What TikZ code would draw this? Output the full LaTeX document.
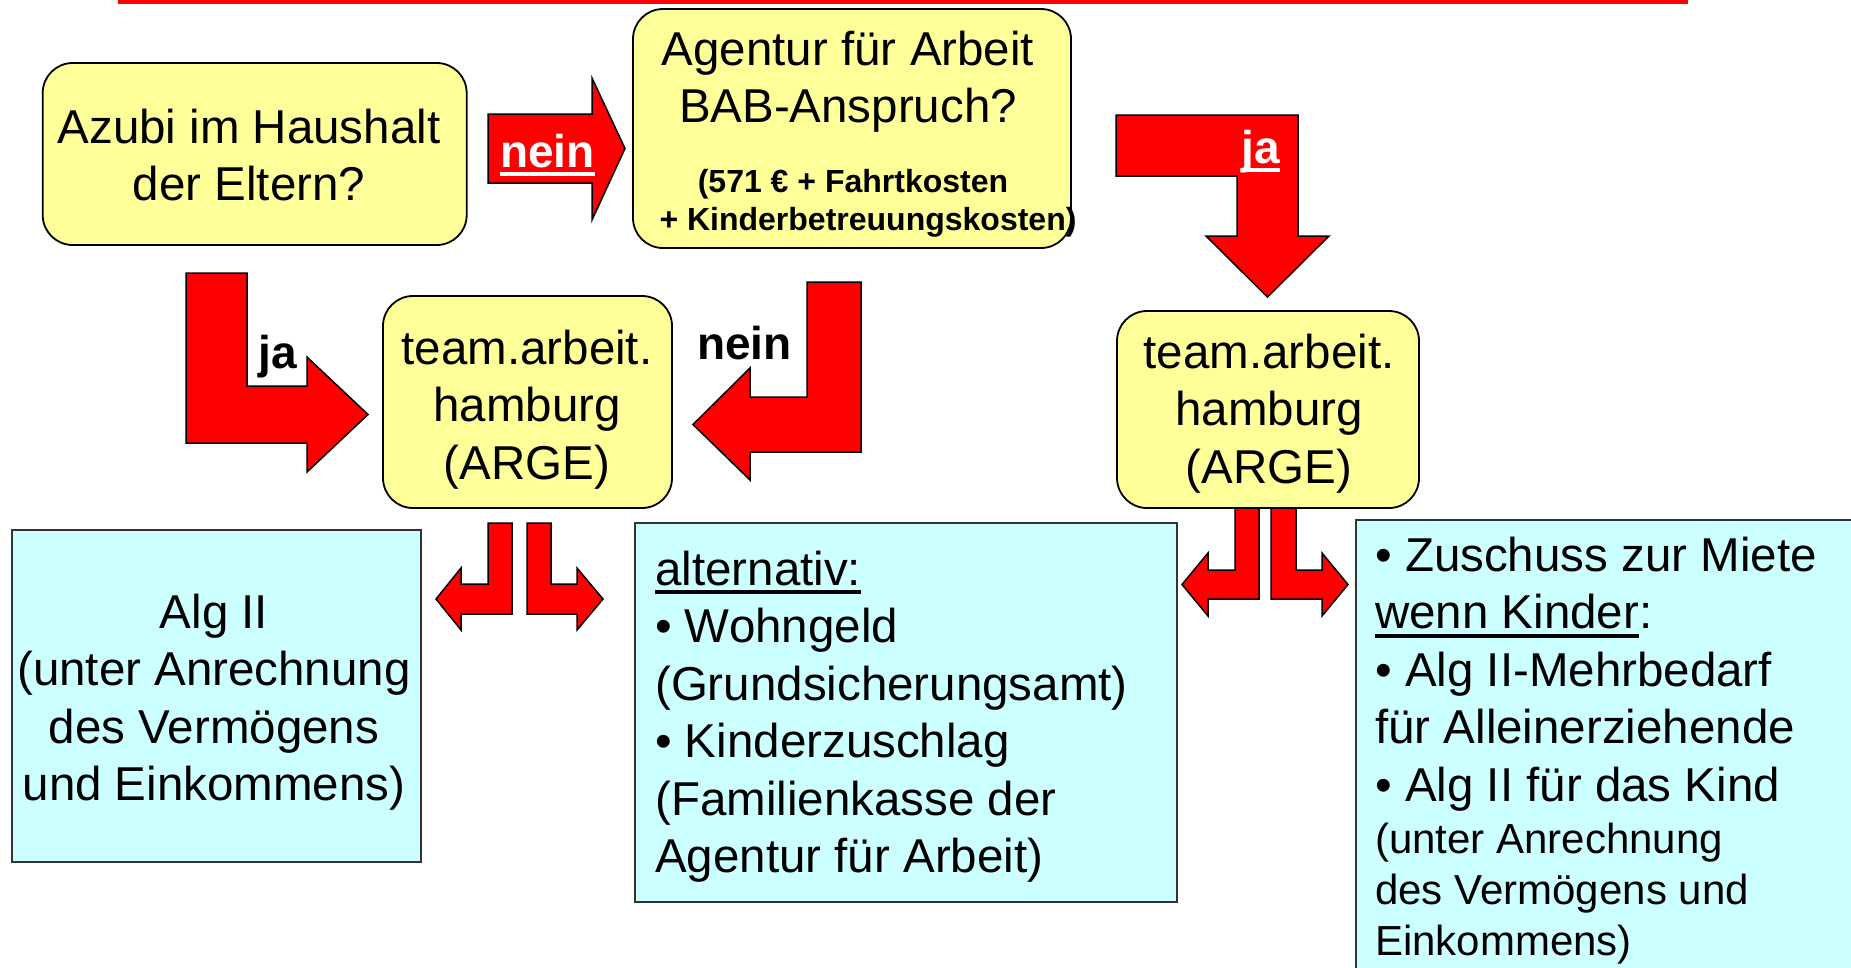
\documentclass[tikz,border=0pt]{standalone}
\usepackage{fontspec}
\setmainfont{Liberation Sans}
\usetikzlibrary{positioning}

\definecolor{boxyellow}{HTML}{FFFF99}
\definecolor{boxcyan}{HTML}{CCFFFF}
\definecolor{arrowred}{HTML}{FF0000}
\newcommand{\ulbar}[1]{\setbox0=\hbox{#1}\rlap{\rule[-9pt]{\wd0}{3.8pt}}\box0}

\begin{document}
\begin{tikzpicture}[x=1pt,y=-1pt,
  ybox/.style={draw,line width=1.8pt,fill=boxyellow,rounded corners=30pt,inner sep=0pt},
  cbox/.style={draw=black!80,line width=1.8pt,fill=boxcyan,inner sep=0pt},
  barrow/.style={draw,line width=1.5pt,fill=arrowred,line join=miter},
  txt/.style={inner sep=0pt,anchor=north,align=center,font=\fontsize{47.5}{57.5}\selectfont},
  ltxt/.style={txt,anchor=north west,align=left},
  lbl/.style={inner sep=0pt,anchor=base,font=\bfseries\fontsize{46}{50}\selectfont}]

\useasboundingbox (0,0) rectangle (1851,967);
\clip (0,0) rectangle (1851,967);

\draw[arrowred,line width=3.5pt] (118,2) -- (1688,2);

\node[ybox,minimum width=424pt,minimum height=182pt] (azubi) at (254.7,154) {};
\node[ybox,minimum width=438pt,minimum height=239pt] (bab) at (852,128.5) {};
\node[ybox,minimum width=289pt,minimum height=212pt] (argeL) at (527.5,402) {};
\node[ybox,minimum width=302pt,minimum height=197pt] (argeR) at (1268,409.5) {};
\node[cbox,minimum width=409pt,minimum height=332pt] (alg) at (216.5,696) {};
\node[cbox,minimum width=542pt,minimum height=379pt] (alt) at (906,712.5) {};
\node[cbox,anchor=north west,minimum width=600pt,minimum height=500pt] (miete) at (1355,519) {};

% nein
\draw[barrow] (488,114) -- (592,114) -- (592,78) -- (625,148.5) -- (592,220) -- (592,183) -- (488,183) -- cycle;
% ja, rechts oben
\draw[barrow] (1116,115) -- (1298,115) -- (1298,236) -- (1329,236) -- (1267.5,297) -- (1206,236) -- (1237,236) -- (1237,176) -- (1116,176) -- cycle;
% ja, links
\draw[barrow] (186,273) -- (247,273) -- (247,386) -- (307,386) -- (307,357) -- (368,414.5) -- (307,472) -- (307,443) -- (186,443) -- cycle;
% nein, mitte
\draw[barrow] (807,282) -- (861,282) -- (861,452) -- (750,452) -- (750,480) -- (693,424.5) -- (750,368) -- (750,397) -- (807,397) -- cycle;

\draw[barrow] (488,523) -- (512,523) -- (512,614) -- (461,614) -- (461,630) -- (436,599) -- (461,568) -- (461,584) -- (488,584) -- cycle;
\draw[barrow] (527,523) -- (551,523) -- (551,584) -- (577,584) -- (577,568) -- (603,599) -- (577,630) -- (577,614) -- (527,614) -- cycle;
\draw[barrow] (1235,508) -- (1259,508) -- (1259,599) -- (1208,599) -- (1208,616) -- (1182,584.5) -- (1208,553) -- (1208,570) -- (1235,570) -- cycle;
\draw[barrow] (1271,508) -- (1296,508) -- (1296,570) -- (1322,570) -- (1322,553) -- (1348,584.5) -- (1322,616) -- (1322,599) -- (1271,599) -- cycle;

\node[txt] (azubitext) at (249,102.75) {\strut Azubi im Haushalt\\der Eltern?};
\node[txt] (babtext) at (848,24.75) {\strut Agentur für Arbeit\\BAB-Anspruch?};
\node[txt,font=\bfseries\fontsize{32}{38}\selectfont] (babcost) at (868,165.4) {\strut(571 € + Fahrtkosten\hspace*{30pt}\\+ Kinderbetreuungskosten)};
\node[txt] (argeLtext) at (527,323.75) {\strut team.arbeit.\\hamburg\\(ARGE)};
\node[txt] (argeRtext) at (1269,327.75) {\strut team.arbeit.\\hamburg\\(ARGE)};
\node[txt] (algtext) at (214,587.75) {\strut Alg II\\(unter Anrechnung\\des Vermögens\\und Einkommens)};
\node[ltxt] (alttext) at (655,544.75) {\strut\ulbar{alternativ:}\\• Wohngeld\\(Grundsicherungsamt)\\• Kinderzuschlag\\(Familienkasse der\\Agentur für Arbeit)};
\node[ltxt] (mietetext) at (1375,530.75) {\strut• Zuschuss zur Miete\\\ulbar{wenn Kinder}:\\• Alg II-Mehrbedarf\\für Alleinerziehende\\• Alg II für das Kind};
\node[ltxt,font=\fontsize{42}{51}\selectfont] (mietesmall) at (1375,817.3) {\strut(unter Anrechnung\\des Vermögens und\\Einkommens)};

\node[lbl,text=white] (neinA) at (547.5,167) {\ulbar{nein}};
\node[lbl,text=white] (jaR) at (1260.5,163) {\ulbar{ja}};
\node[lbl] (jaL) at (277.5,368) {ja};
\node[lbl] (neinM) at (744.5,359) {nein};

\end{tikzpicture}
\end{document}
